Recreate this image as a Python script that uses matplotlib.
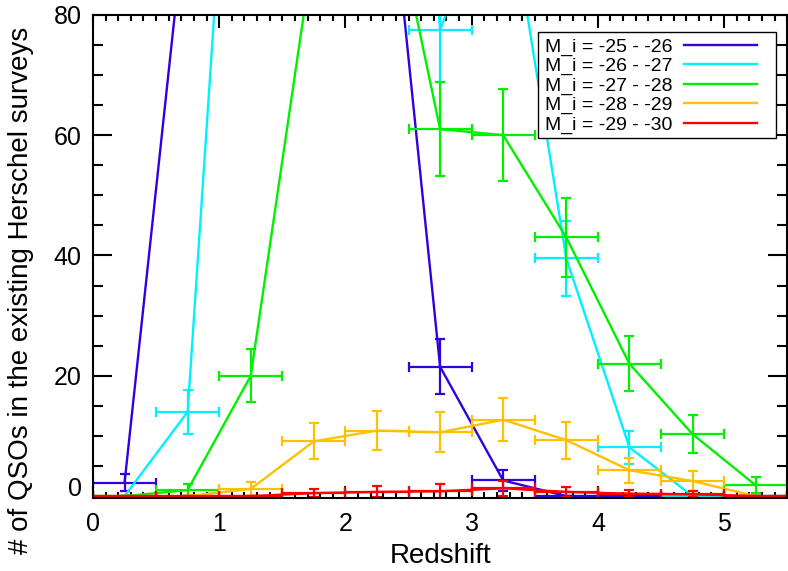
import matplotlib
matplotlib.use('Agg')
import matplotlib.pyplot as plt
from matplotlib.ticker import MultipleLocator
from matplotlib.patches import Rectangle

plt.rcParams['font.family'] = ['Liberation Sans', 'DejaVu Sans']

# bin centres in redshift (bin width 0.5)
z = [0.25, 0.75, 1.25, 1.75, 2.25, 2.75, 3.25, 3.75, 4.25, 4.75, 5.25]
z_err = [0.25] * len(z)

labels = ['M_i = -25 - -26', 'M_i = -26 - -27', 'M_i = -27 - -28',
          'M_i = -28 - -29', 'M_i = -29 - -30']
colors = ['#3000e0', '#00f0ff', '#00f000', '#ffc000', '#ff0000']

n_25 = [2.2, 100, 180, 190, 124, 21.5, 2.6, 0, 0, 0, 0]
e_25 = [1.4, 10, 13, 14, 11, 4.6, 1.7, 0, 0, 0, 0]
n_26 = [0, 14, 171, 260, 230, 77.5, 105, 39.5, 8.1, 0, 0]
e_26 = [0, 3.7, 13, 16, 15, 8.6, 10, 6.3, 2.8, 0, 0]
n_27 = [0, 1, 20, 91.5, 111, 61, 60, 43, 22, 10.3, 1.8]
e_27 = [0, 1, 4.4, 9.5, 10.5, 7.8, 7.7, 6.6, 4.6, 3.2, 1.3]
n_28 = [0, 0, 1.2, 9.1, 10.9, 10.6, 12.7, 9.3, 4.3, 2.5, 0]
e_28 = [0, 0, 1.2, 3.0, 3.3, 3.3, 3.6, 3.1, 2.1, 1.6, 0]
n_29 = [0, 0, 0, 0.5, 0.7, 0.8, 1.3, 0.7, 0.4, 0.3, 0]
e_29 = [0, 0, 0, 0.7, 0.9, 1.2, 1.2, 0.8, 0.6, 0.5, 0]

counts = [n_25, n_26, n_27, n_28, n_29]
errs = [e_25, e_26, e_27, e_28, e_29]

fig = plt.figure(figsize=(7.88, 5.71), dpi=100)
ax = fig.add_axes([0.118, 0.128, 0.881, 0.846])

for n, e, c, lab in zip(counts, errs, colors, labels):
    ax.plot(z, n, color=c, lw=1.7, label=lab)
    ax.errorbar(z, n, xerr=z_err, yerr=e, fmt='none', ecolor=c,
                elinewidth=1.6, capsize=3.5, capthick=1.6)

ax.set_xlim(0, 5.5)
ax.set_ylim(-0.3, 80)
ax.xaxis.set_major_locator(MultipleLocator(1))
ax.xaxis.set_minor_locator(MultipleLocator(0.1))
ax.yaxis.set_major_locator(MultipleLocator(20))
ax.yaxis.set_minor_locator(MultipleLocator(5))
ax.tick_params(which='both', direction='in', top=True, right=True, width=1.5)
ax.tick_params(axis='x', which='major', length=9, pad=10, labelsize=18)
ax.tick_params(axis='x', which='minor', length=4)
ax.tick_params(axis='y', which='major', length=14, pad=8, labelsize=18)
ax.tick_params(axis='y', which='minor', length=7)
for s in ax.spines.values():
    s.set_linewidth(1.5)

ax.set_xlabel('Redshift', fontsize=20, labelpad=5)
ax.set_ylabel('# of QSOs in the existing Herschel surveys', fontsize=20)
ax.yaxis.set_label_coords(-0.085, 0.43)

ax.set_yticks([0, 20, 40, 60, 80])
ax.get_yticklabels()[0].set_verticalalignment('baseline')

# legend box (IDL style, extra room on the right)
box = Rectangle((0.641, 0.745), 0.343, 0.22, transform=ax.transAxes,
                facecolor='white', edgecolor='black', lw=1.0, zorder=5)
ax.add_patch(box)
leg = ax.legend(loc='upper left', bbox_to_anchor=(0.651, 0.952), fontsize=14,
                markerfirst=False, handlelength=3.76, handletextpad=0.57,
                labelspacing=0.09, borderpad=0, frameon=False,
                borderaxespad=0)
leg.set_zorder(6)

fig.savefig('out.png', dpi=100)
